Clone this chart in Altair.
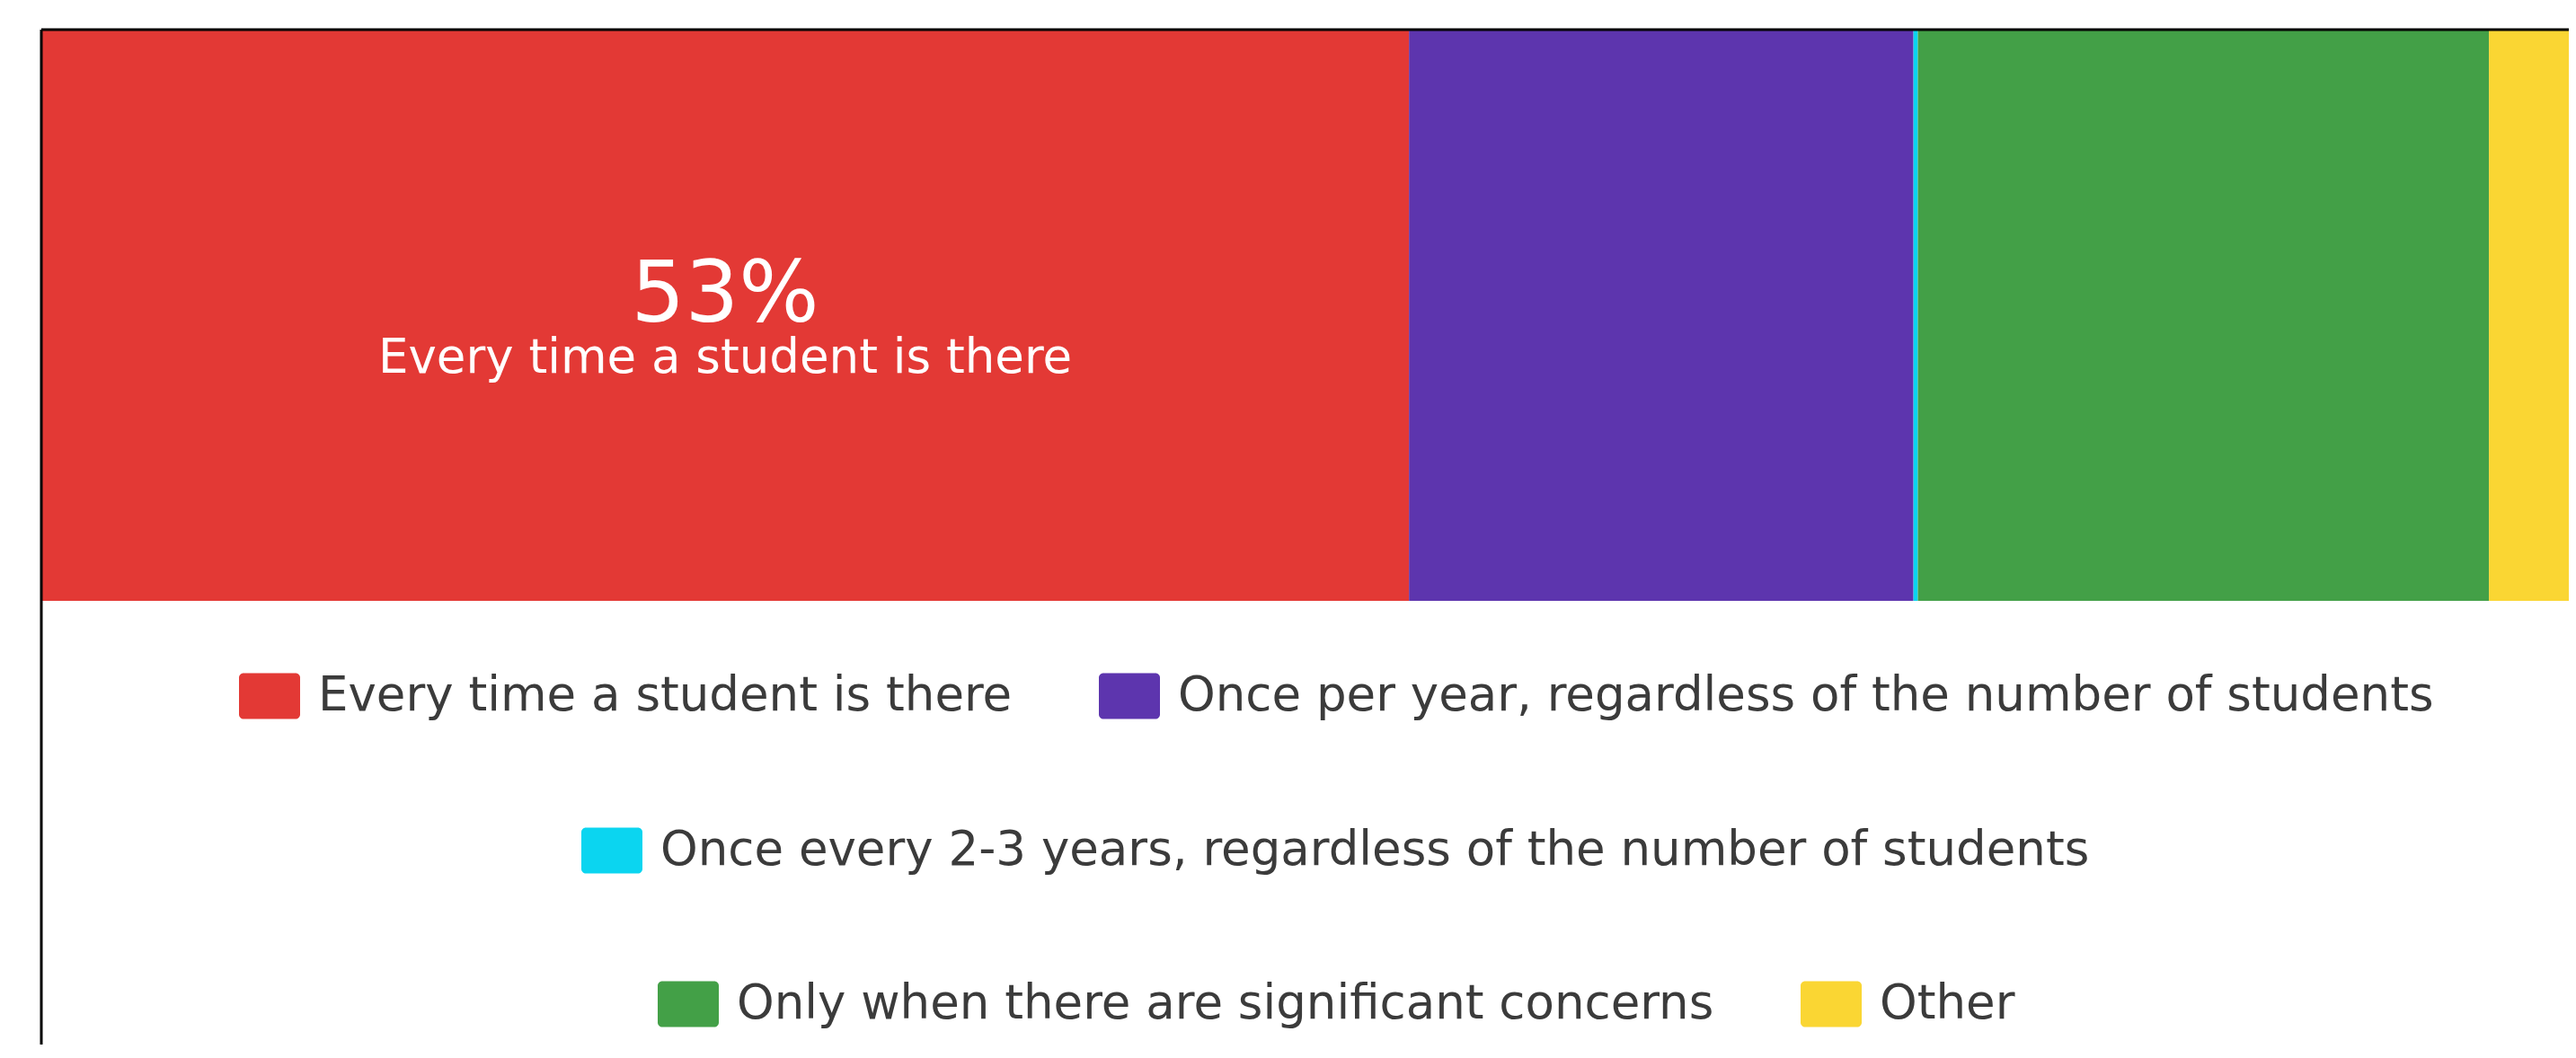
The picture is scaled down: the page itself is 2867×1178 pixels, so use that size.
import altair as alt
import pandas as pd

# ---- data ----
categories = [
    "Every time a student is there",
    "Once per year, regardless of the number of students",
    "Once every 2-3 years, regardless of the number of students",
    "Only when there are significant concerns",
    "Other",
]
percents = [53.0, 19.55, 0.17, 22.13, 5.15]
colors = ["#E33935", "#5D35AE", "#0BD5F0", "#43A047", "#FAD633"]
legend_rows = [[0, 1], [2], [3, 4]]

df = pd.DataFrame({
    "answer": categories,
    "pct": percents,
    "order": list(range(len(categories))),
    "row": ["all"] * len(categories),
})

FONT = "DejaVu Sans"
FULL_BAR = 2872          # pixel length the full 100% bar would have (it runs past the window)
W, H = 2813, 1130        # visible plot area
BAR_H = 636

x_max = 100 * W / FULL_BAR
pad_outer = (H / BAR_H - 1) / 2
xscale = alt.Scale(domain=[0, x_max], nice=False, zero=True)
yscale = alt.Scale(paddingInner=0, paddingOuter=pad_outer, align=0)

base = (
    alt.Chart(df)
    .transform_window(cum="sum(pct)", sort=[alt.SortField("order")], frame=[None, 0])
    .transform_calculate(start="datum.cum - datum.pct")
)

ROUNDED = ("M-0.85,-0.75H0.85A0.15,0.15,0,0,1,1,-0.6V0.6A0.15,0.15,0,0,1,0.85,0.75"
           "H-0.85A0.15,0.15,0,0,1,-1,0.6V-0.6A0.15,0.15,0,0,1,-0.85,-0.75Z")

legend_x = [220, 601, 686]
legend_y = [708, 880, 1051]

layers = []
for r, idx in enumerate(legend_rows):
    dom = [categories[i] for i in idx]
    rng = [colors[i] for i in idx]
    layers.append(
        base.transform_filter(alt.FieldOneOfPredicate(field="answer", oneOf=dom))
        .mark_bar(clip=True)
        .encode(
            x=alt.X("start:Q", scale=xscale, axis=None),
            x2="cum:Q",
            y=alt.Y("row:N", scale=yscale, axis=None),
            color=alt.Color(
                "answer:N",
                scale=alt.Scale(domain=dom, range=rng),
                legend=alt.Legend(
                    orient="none", legendX=legend_x[r], legendY=legend_y[r],
                    direction="horizontal", title=None,
                    symbolType=ROUNDED, symbolSize=4624, symbolStrokeWidth=0,
                    symbolOpacity=1,
                    labelFont=FONT, labelFontSize=53, labelColor="#3b3b3b",
                    labelLimit=3000, labelOffset=20, columnPadding=95, padding=0,
                ),
            ),
        )
    )

lab = (
    base.transform_filter(alt.datum.order == 0)
    .transform_calculate(mid="(datum.start + datum.cum) / 2",
                         pct_label="format(datum.pct, '.0f') + '%'")
)
pct_text = lab.mark_text(font=FONT, fontSize=94, color="white", baseline="alphabetic", dy=7).encode(
    x=alt.X("mid:Q", scale=xscale, axis=None),
    y=alt.Y("row:N", scale=yscale, axis=None),
    text="pct_label:N",
)
name_text = lab.mark_text(font=FONT, fontSize=53, color="white", baseline="alphabetic", dy=64).encode(
    x=alt.X("mid:Q", scale=xscale, axis=None),
    y=alt.Y("row:N", scale=yscale, axis=None),
    text="answer:N",
)

# black frame of the screenshot (top and left edges only are visible)
frame = alt.Chart(pd.DataFrame({"k": [0]}))
frame_top = frame.mark_rule(color="black", strokeWidth=3).encode(
    x=alt.value(0), x2=alt.value(W), y=alt.value(0))
frame_left = frame.mark_rule(color="black", strokeWidth=3).encode(
    x=alt.value(0), y=alt.value(0), y2=alt.value(H))

chart = (
    alt.layer(*layers, pct_text, name_text, frame_top, frame_left)
    .resolve_scale(color="independent")
    .properties(width=W, height=H,
                padding={"left": 38, "top": 25, "right": 0, "bottom": 0},
                autosize=alt.AutoSizeParams(type="none"),
                background="white")
    .configure_view(stroke=None)
)

chart.save("out.html", embed_options={"renderer": "svg", "actions": False})
